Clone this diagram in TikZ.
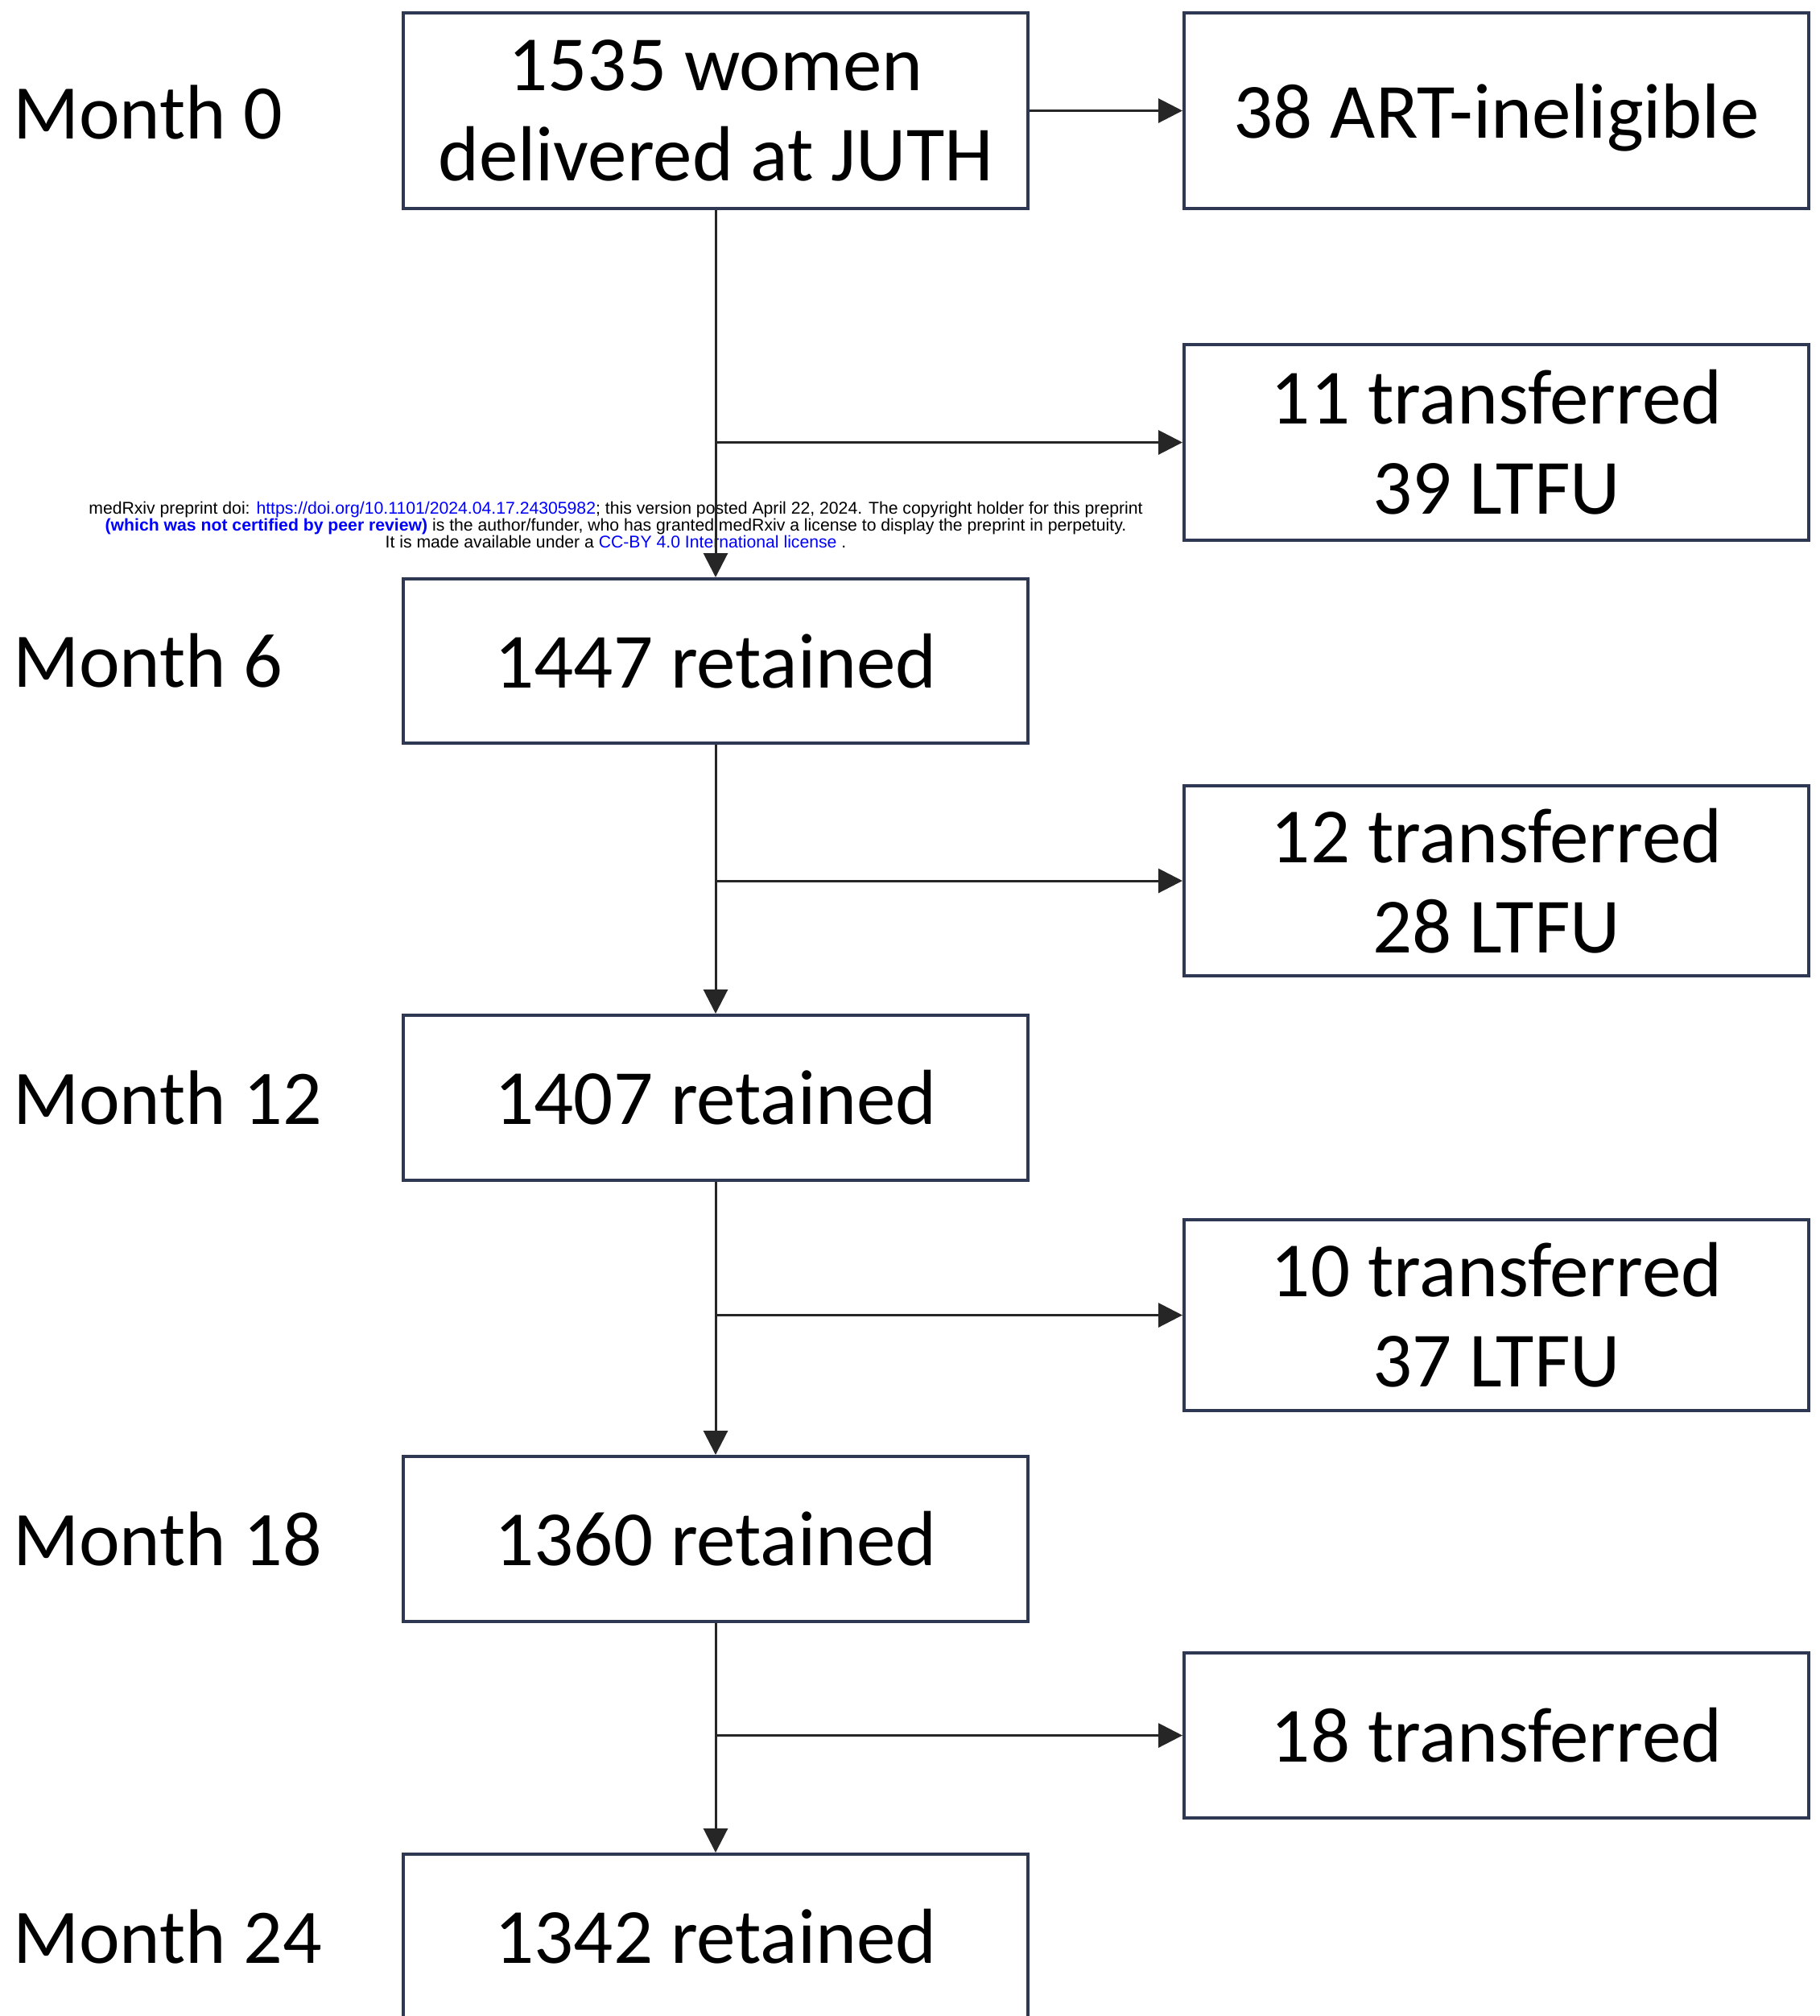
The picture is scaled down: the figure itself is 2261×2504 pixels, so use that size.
\documentclass[tikz,border=0pt]{standalone}
\usepackage{fontspec}
\setmainfont{Carlito}
\newfontfamily\wmfont{Liberation Sans}
\usetikzlibrary{arrows.meta}
\definecolor{boxline}{HTML}{2F3852}
\definecolor{linkblue}{RGB}{0,0,255}
\begin{document}
\begin{tikzpicture}[x=1pt,y=-1pt,
  flowbox/.style={draw=boxline,line width=4pt,fill=white,minimum width=776pt,
    align=center,inner sep=0pt,font=\fontsize{97}{112}\selectfont},
  monthlbl/.style={anchor=west,inner sep=0pt,font=\fontsize{96}{112}\selectfont},
  conn/.style={draw=black!85,line width=3pt,-{Triangle[length=30pt,width=30pt]}}]
\useasboundingbox (0,0) rectangle (2261,2504);
\clip (0,0) rectangle (2261,2504);
\fill[white] (0,0) rectangle (2261,2504);

% main column
\node[flowbox,minimum height=243pt] (b0) at (889,137.5) {1535 women\\delivered at JUTH};
\node[flowbox,minimum height=204pt] (b6) at (889,821) {1447 retained};
\node[flowbox,minimum height=205pt] (b12) at (889,1363.5) {1407 retained};
\node[flowbox,minimum height=205pt] (b18) at (889,1911.5) {1360 retained};
\node[flowbox,minimum height=204pt] (b24) at (889,2405) {1342 retained};

% side column
\node[flowbox,minimum height=243pt,text depth=0pt] (sA) at (1859,137.5) {38 ART-ineligible};
\node[flowbox,minimum height=243pt] (sB) at (1859,549.5) {11 transferred\\39 LTFU};
\node[flowbox,minimum height=236pt] (sC) at (1859,1094) {12 transferred\\28 LTFU};
\node[flowbox,minimum height=237pt] (sD) at (1859,1633.5) {10 transferred\\37 LTFU};
\node[flowbox,minimum height=205pt] (sE) at (1859,2155.5) {18 transferred};

% month labels
\node[monthlbl] (m0) at (16,140) {Month 0};
\node[monthlbl] (m6) at (16,821) {Month 6};
\node[monthlbl] (m12) at (16,1363.5) {Month 12};
\node[monthlbl] (m18) at (16,1911.5) {Month 18};
\node[monthlbl] (m24) at (16,2405) {Month 24};

% watermark
\node[align=center,inner sep=0pt,font=\wmfont\fontsize{21.2}{21}\selectfont] (wm) at (765,652)
 {medRxiv preprint doi: \textcolor{linkblue}{https://doi.org/10.1101/2024.04.17.24305982}; this version posted April 22, 2024. The copyright holder for this preprint\\
 \textcolor{linkblue}{\bfseries (which was not certified by peer review)} is the author/funder, who has granted medRxiv a license to display the preprint in perpetuity.\\
 It is made available under a \textcolor{linkblue}{CC-BY 4.0 International license} .};

% connectors
\coordinate (j1) at (b0.south |- sB.west);
\coordinate (j2) at (b6.south |- sC.west);
\coordinate (j3) at (b12.south |- sD.west);
\coordinate (j4) at (b18.south |- sE.west);
\draw[conn] (b0.east) -- (sA.west);
\draw[conn] (b0.south) -- (b6.north);
\draw[conn] (j1) -- (sB.west);
\draw[conn] (b6.south) -- (b12.north);
\draw[conn] (j2) -- (sC.west);
\draw[conn] (b12.south) -- (b18.north);
\draw[conn] (j3) -- (sD.west);
\draw[conn] (b18.south) -- (b24.north);
\draw[conn] (j4) -- (sE.west);
\end{tikzpicture}
\end{document}
